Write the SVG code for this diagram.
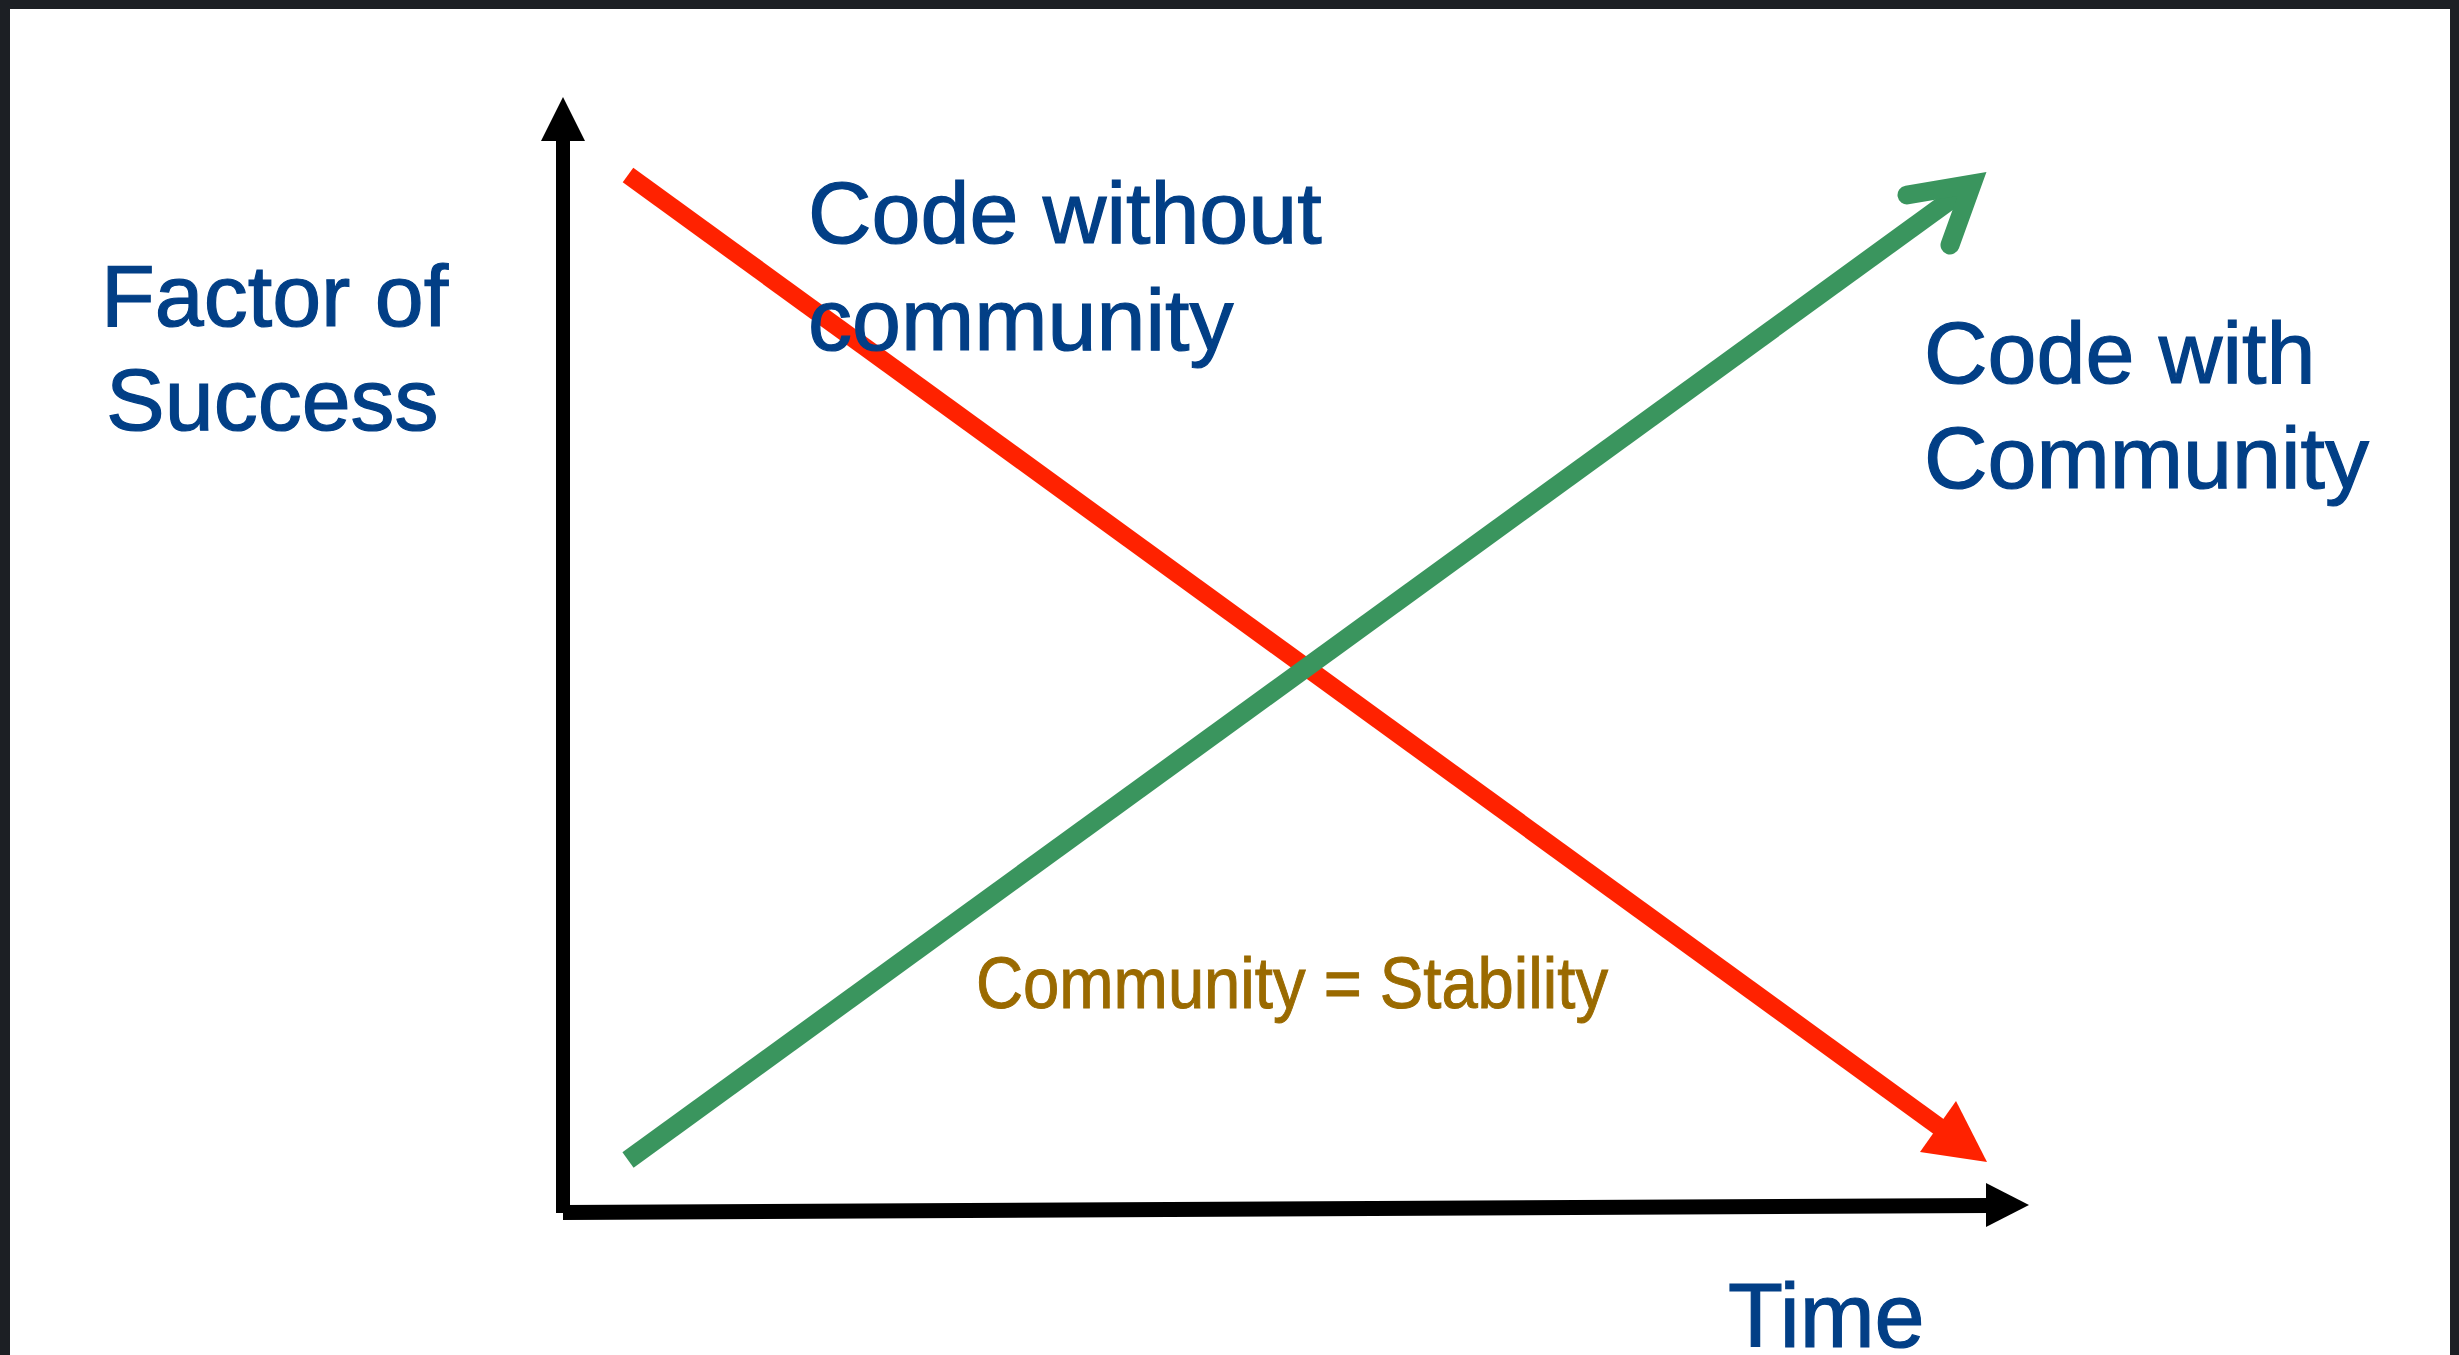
<svg xmlns="http://www.w3.org/2000/svg" width="2459" height="1355" viewBox="0 0 2459 1355">
  <style>
    .lbl { font-family: "Liberation Sans", Arial, sans-serif; fill: #023f86; stroke: #023f86; stroke-width: 1.2; font-size: 88px; }
    .note { font-family: "Liberation Sans", Arial, sans-serif; fill: #9a6a00; stroke: #9a6a00; stroke-width: 1; font-size: 72px; }
    .axis { stroke: #000; fill: none; }
  </style>
  <rect x="0" y="0" width="2459" height="1355" fill="#1c1f24"/>
  <rect x="10" y="9" width="2440" height="1346" fill="#ffffff"/>

  <g id="connectors">
    <g id="y-axis">
      <line class="axis" x1="563" y1="138" x2="563" y2="1213" stroke-width="14"/>
      <polygon points="563,97 541,141 585,141" fill="#000"/>
    </g>
    <g id="x-axis">
      <line class="axis" x1="563" y1="1212.5" x2="1990" y2="1205.5" stroke-width="15"/>
      <polygon points="2029,1205 1986,1183 1986,1227" fill="#000"/>
    </g>
    <g id="red-line">
      <line x1="628" y1="175" x2="1942" y2="1129" stroke="#ff2200" stroke-width="18"/>
      <polygon points="1987,1162 1956,1101 1920,1152" fill="#ff2200"/>
    </g>
    <g id="green-line">
      <line x1="628" y1="1160" x2="1960" y2="193" stroke="#3a955e" stroke-width="19"/>
      <polyline points="1907,195 1972,184 1950,245" fill="none" stroke="#3a955e" stroke-width="19" stroke-linecap="round" stroke-linejoin="miter" stroke-miterlimit="10"/>
    </g>
  </g>

  <g id="label-factor">
    <text class="lbl" x="101" y="326">Factor of</text>
    <text class="lbl" x="106" y="430">Success</text>
  </g>
  <g id="label-without">
    <text class="lbl" x="808" y="243">Code without</text>
    <text class="lbl" x="808" y="350">community</text>
  </g>
  <g id="label-with">
    <text class="lbl" x="1924" y="383">Code with</text>
    <text class="lbl" x="1924" y="488">Community</text>
  </g>
  <g id="label-stability">
    <text class="note" x="976" y="1008" textLength="632" lengthAdjust="spacingAndGlyphs">Community = Stability</text>
  </g>
  <g id="label-time">
    <text class="lbl" x="1728" y="1347" style="font-size:90px">Time</text>
  </g>
</svg>
